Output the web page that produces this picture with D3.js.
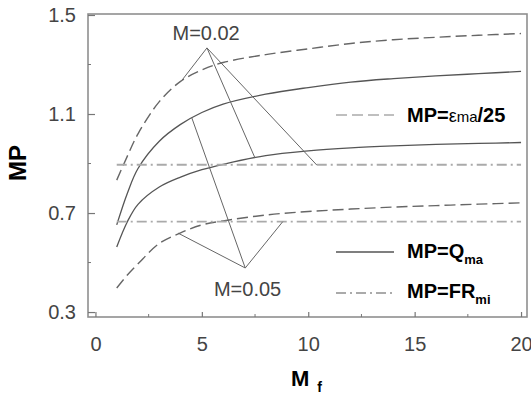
<!DOCTYPE html>
<html>
<head>
<meta charset="utf-8">
<script src="https://cdn.jsdelivr.net/npm/d3@7"></script>
<style>
  body { margin: 0; background: #fff; }
  svg text { font-family: "Liberation Sans", Arial, sans-serif; }
</style>
</head>
<body>
<div id="chart"></div>
<script>
// M_f grid shared by the curves
var mf = [1, 1.5, 2, 3, 4, 5, 6, 8, 10, 12, 14, 16, 18, 20];

// MP = eps_ma/25 (dashed), M=0.02 and M=0.05
var epsHi = [0.833, 0.93, 1.02, 1.15, 1.232, 1.278, 1.308, 1.34, 1.363, 1.385, 1.40, 1.41, 1.418, 1.425];
var epsLo = [0.397, 0.45, 0.495, 0.577, 0.62, 0.652, 0.668, 0.692, 0.706, 0.716, 0.724, 0.73, 0.736, 0.741];
// MP = Q_ma (solid)
var qHi = [0.652, 0.78, 0.88, 0.99, 1.058, 1.106, 1.14, 1.18, 1.207, 1.229, 1.243, 1.254, 1.263, 1.272];
var qLo = [0.563, 0.665, 0.735, 0.805, 0.845, 0.875, 0.897, 0.932, 0.951, 0.963, 0.971, 0.977, 0.981, 0.985];
// MP = FR_mi (dash-dot, constant)
var frX = [1, 20];
var frHi = [0.895, 0.895];
var frLo = [0.665, 0.665];

// annotation pointers
var m02Apex = [5.24, 1.367];
var m02Ends = [[4.07, 1.237], [7.5, 0.922], [10.4, 0.894]];
var m05Apex = [7.04, 0.478];
var m05Ends = [[3.88, 0.619], [4.53, 1.084], [8.8, 0.665]];

var xMajor = [0, 5, 10, 15, 20];
var xMinor = [2.5, 7.5, 12.5, 17.5];
var yMajor = [0.3, 0.7, 1.1, 1.5];
var yMinor = [0.5, 0.9, 1.3];

var W = 531, H = 396;
var pLeft = 88, pRight = 527, pTop = 14, pBottom = 317;

var svg = d3.select("#chart").append("svg")
    .attr("width", W)
    .attr("height", H);

var x = d3.scaleLinear().domain([-0.35, 20.28]).range([pLeft, pRight]);
var y = d3.scaleLinear().domain([0.28, 1.504]).range([pBottom, pTop]);

// frame
svg.append("rect")
    .attr("x", pLeft).attr("y", pTop)
    .attr("width", pRight - pLeft).attr("height", pBottom - pTop)
    .attr("fill", "none")
    .attr("stroke", "#8f8f8f")
    .attr("stroke-width", 1.6);

// x axis (ticks pointing inward)
var xAxis = svg.append("g")
    .attr("transform", "translate(0," + pBottom + ")")
    .call(d3.axisBottom(x).tickValues(xMajor).tickSize(-5).tickPadding(20).tickFormat(d3.format("d")));
xAxis.select(".domain").remove();
xAxis.selectAll(".tick line").attr("stroke", "#777").attr("stroke-width", 1.2);
xAxis.selectAll(".tick text")
    .attr("fill", "#444")
    .style("font-size", "20px");

svg.append("g").selectAll("line")
    .data(xMinor).enter().append("line")
    .attr("x1", d => x(d)).attr("x2", d => x(d))
    .attr("y1", pBottom).attr("y2", pBottom - 3)
    .attr("stroke", "#777");

// y axis
var yAxis = svg.append("g")
    .attr("transform", "translate(" + pLeft + ",0)")
    .call(d3.axisLeft(y).tickValues(yMajor).tickSize(-7).tickPadding(12).tickFormat(d3.format(".1f")));
yAxis.select(".domain").remove();
yAxis.selectAll(".tick line").attr("stroke", "#777").attr("stroke-width", 1.2);
yAxis.selectAll(".tick text")
    .attr("fill", "#444")
    .style("font-size", "20px");

svg.append("g").selectAll("line")
    .data(yMinor).enter().append("line")
    .attr("x1", pLeft).attr("x2", pLeft + 3)
    .attr("y1", d => y(d)).attr("y2", d => y(d))
    .attr("stroke", "#777");

// axis titles
svg.append("text")
    .attr("transform", "translate(26,163) rotate(-90)")
    .attr("text-anchor", "middle")
    .style("font-size", "24px")
    .style("font-weight", "bold")
    .text("MP");

var xt = svg.append("text")
    .attr("x", 291).attr("y", 386)
    .style("font-size", "22px")
    .style("font-weight", "bold");
xt.append("tspan").text("M");
xt.append("tspan").attr("dx", 8).attr("dy", 6).style("font-size", "14px").text("f");

// curves
var line = d3.line()
    .x(function(d) { return x(d[0]); })
    .y(function(d) { return y(d[1]); })
    .curve(d3.curveCatmullRom.alpha(0.5));

function zip(xs, ys) { return xs.map(function(v, i) { return [v, ys[i]]; }); }

var dashStyle = "11,5";
var dashDot = "10,4,2,4";

[epsHi, epsLo].forEach(function(s) {
  svg.append("path")
    .attr("d", line(zip(mf, s)))
    .attr("fill", "none")
    .attr("stroke", "#666")
    .attr("stroke-width", 1.4)
    .attr("stroke-dasharray", dashStyle);
});

[qHi, qLo].forEach(function(s) {
  svg.append("path")
    .attr("d", line(zip(mf, s)))
    .attr("fill", "none")
    .attr("stroke", "#555")
    .attr("stroke-width", 1.3);
});

[frHi, frLo].forEach(function(s) {
  svg.append("path")
    .attr("d", line(zip(frX, s)))
    .attr("fill", "none")
    .attr("stroke", "#aaa")
    .attr("stroke-width", 1.8)
    .attr("stroke-dasharray", dashDot);
});

// annotation pointers
function pointers(apex, ends) {
  svg.append("g").selectAll("line")
    .data(ends).enter().append("line")
    .attr("x1", x(apex[0])).attr("y1", y(apex[1]))
    .attr("x2", d => x(d[0])).attr("y2", d => y(d[1]))
    .attr("stroke", "#666")
    .attr("stroke-width", 1);
}
pointers(m02Apex, m02Ends);
pointers(m05Apex, m05Ends);

svg.append("text")
    .attr("x", x(5.2)).attr("y", y(1.399))
    .attr("text-anchor", "middle")
    .attr("fill", "#444")
    .style("font-size", "20px")
    .text("M=0.02");
svg.append("text")
    .attr("x", x(7.15)).attr("y", y(0.365))
    .attr("text-anchor", "middle")
    .attr("fill", "#444")
    .style("font-size", "20px")
    .text("M=0.05");

// legend
var lg = svg.append("g");
function legendLine(yy, dash, color, w) {
  lg.append("line")
    .attr("x1", 336).attr("x2", 394)
    .attr("y1", yy).attr("y2", yy)
    .attr("stroke", color)
    .attr("stroke-width", w)
    .attr("stroke-dasharray", dash);
}
legendLine(115, "11,5", "#aaa", 1.4);
legendLine(252, null, "#555", 1.3);
legendLine(293, dashDot, "#aaa", 1.8);

var t1 = lg.append("text").attr("x", 407).attr("y", 122).style("font-size", "20px");
t1.append("tspan").style("font-weight", "bold").text("MP=");
t1.append("tspan").style("font-size", "18px").text("ε");
t1.append("tspan").style("font-size", "15px").text("ma");
t1.append("tspan").style("font-weight", "bold").text("/25");

var t2 = lg.append("text").attr("x", 407).attr("y", 258).style("font-size", "20px").style("font-weight", "bold");
t2.append("tspan").text("MP=Q");
t2.append("tspan").attr("dy", 6).style("font-size", "13px").text("ma");

var t3 = lg.append("text").attr("x", 407).attr("y", 298).style("font-size", "20px").style("font-weight", "bold");
t3.append("tspan").text("MP=FR");
t3.append("tspan").attr("dy", 6).style("font-size", "13px").text("mi");
</script>
</body>
</html>
